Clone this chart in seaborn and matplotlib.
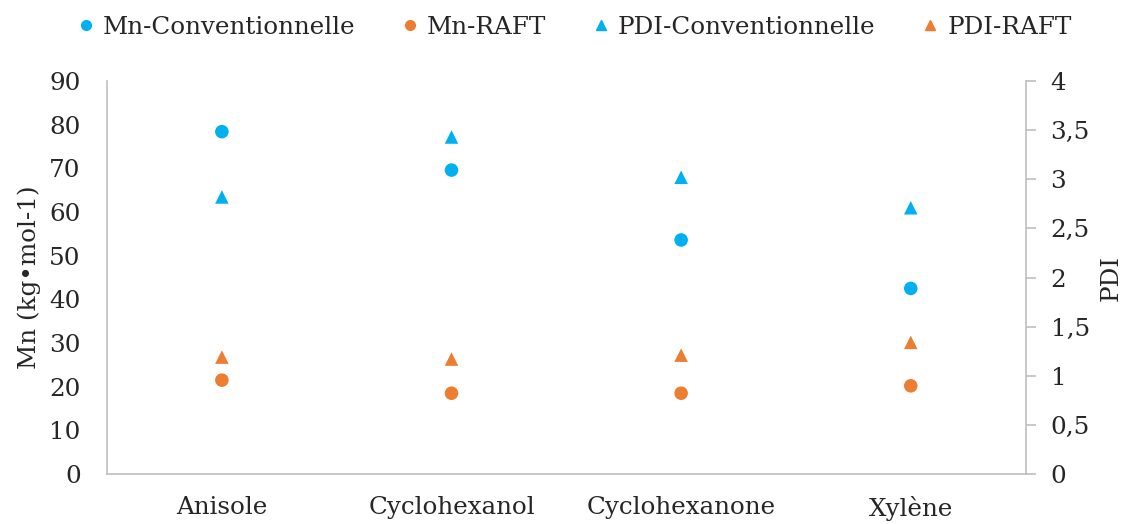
import matplotlib
matplotlib.use("Agg")
import matplotlib.pyplot as plt
import seaborn as sns
import pandas as pd
from matplotlib.lines import Line2D
from matplotlib.ticker import FuncFormatter

solvents = ["Anisole", "Cyclohexanol", "Cyclohexanone", "Xylène"]
mn_conv = [78.4, 69.6, 53.6, 42.5]
mn_raft = [21.5, 18.5, 18.5, 20.2]
pdi_conv = [2.82, 3.43, 3.02, 2.71]
pdi_raft = [1.19, 1.17, 1.21, 1.34]

BLUE = "#00B0F0"
ORANGE = "#ED7D31"
GRAY = "#BFBFBF"
TXT = "#262626"

sns.set_theme(style="white")
plt.rcParams["font.family"] = ["DejaVu Serif"]

fig = plt.figure(figsize=(11.27, 5.24), dpi=100)
ax = fig.add_axes([0.095, 0.0954, 0.815, 0.75])
ax2 = ax.twinx()

df = pd.DataFrame({"solvant": solvents, "mn_conv": mn_conv, "mn_raft": mn_raft,
                   "pdi_conv": pdi_conv, "pdi_raft": pdi_raft})

ms = 95
sns.scatterplot(data=df, x="solvant", y="mn_conv", ax=ax, color=BLUE, marker="o",
                s=ms, edgecolor="none", legend=False, zorder=3)
sns.scatterplot(data=df, x="solvant", y="mn_raft", ax=ax, color=ORANGE, marker="o",
                s=ms, edgecolor="none", legend=False, zorder=3)
sns.scatterplot(data=df, x="solvant", y="pdi_conv", ax=ax2, color=BLUE, marker="^",
                s=ms, edgecolor="none", legend=False, zorder=3)
sns.scatterplot(data=df, x="solvant", y="pdi_raft", ax=ax2, color=ORANGE, marker="^",
                s=ms, edgecolor="none", legend=False, zorder=3)

ax.set_xlim(-0.5, len(solvents) - 0.5)
ax.set_ylim(0, 90)
ax.set_yticks(range(0, 91, 10))
ax2.set_ylim(0, 4)
ax2.set_yticks([i * 0.5 for i in range(9)])
ax2.yaxis.set_major_formatter(FuncFormatter(lambda v, p: (f"{v:g}").replace(".", ",")))

for a in (ax, ax2):
    for s in a.spines.values():
        s.set_visible(False)
ax.spines["left"].set_visible(True)
ax.spines["bottom"].set_visible(True)
ax2.spines["right"].set_visible(True)
for s in (ax.spines["left"], ax.spines["bottom"], ax2.spines["right"]):
    s.set_color(GRAY)
    s.set_linewidth(1.2)

fs = 17.7
ax.tick_params(axis="y", length=0, pad=19, labelsize=fs, labelcolor=TXT)
ax.tick_params(axis="x", length=0, pad=16, labelsize=fs, labelcolor=TXT)
ax2.tick_params(axis="y", direction="out", length=7, width=1.2, color=GRAY,
                pad=11, labelsize=fs, labelcolor=TXT)

ax.set_xlabel("")
ax.set_ylabel("Mn (kg•mol-1)", fontsize=fs, color=TXT, labelpad=6)
ax2.set_ylabel("PDI", fontsize=fs, color=TXT, labelpad=7)

handles = [
    Line2D([], [], linestyle="none", marker="o", color=BLUE, markersize=7),
    Line2D([], [], linestyle="none", marker="o", color=ORANGE, markersize=7),
    Line2D([], [], linestyle="none", marker="^", color=BLUE, markersize=7),
    Line2D([], [], linestyle="none", marker="^", color=ORANGE, markersize=7),
]
labels = ["Mn-Conventionnelle", "Mn-RAFT", "PDI-Conventionnelle", "PDI-RAFT"]
fig.legend(handles, labels, loc="center", bbox_to_anchor=(0.508, 0.948), ncol=4,
           frameon=False, fontsize=fs, handletextpad=0.19, columnspacing=1.73,
           handlelength=1.0, labelcolor=TXT)

fig.savefig("out.png", dpi=100)
